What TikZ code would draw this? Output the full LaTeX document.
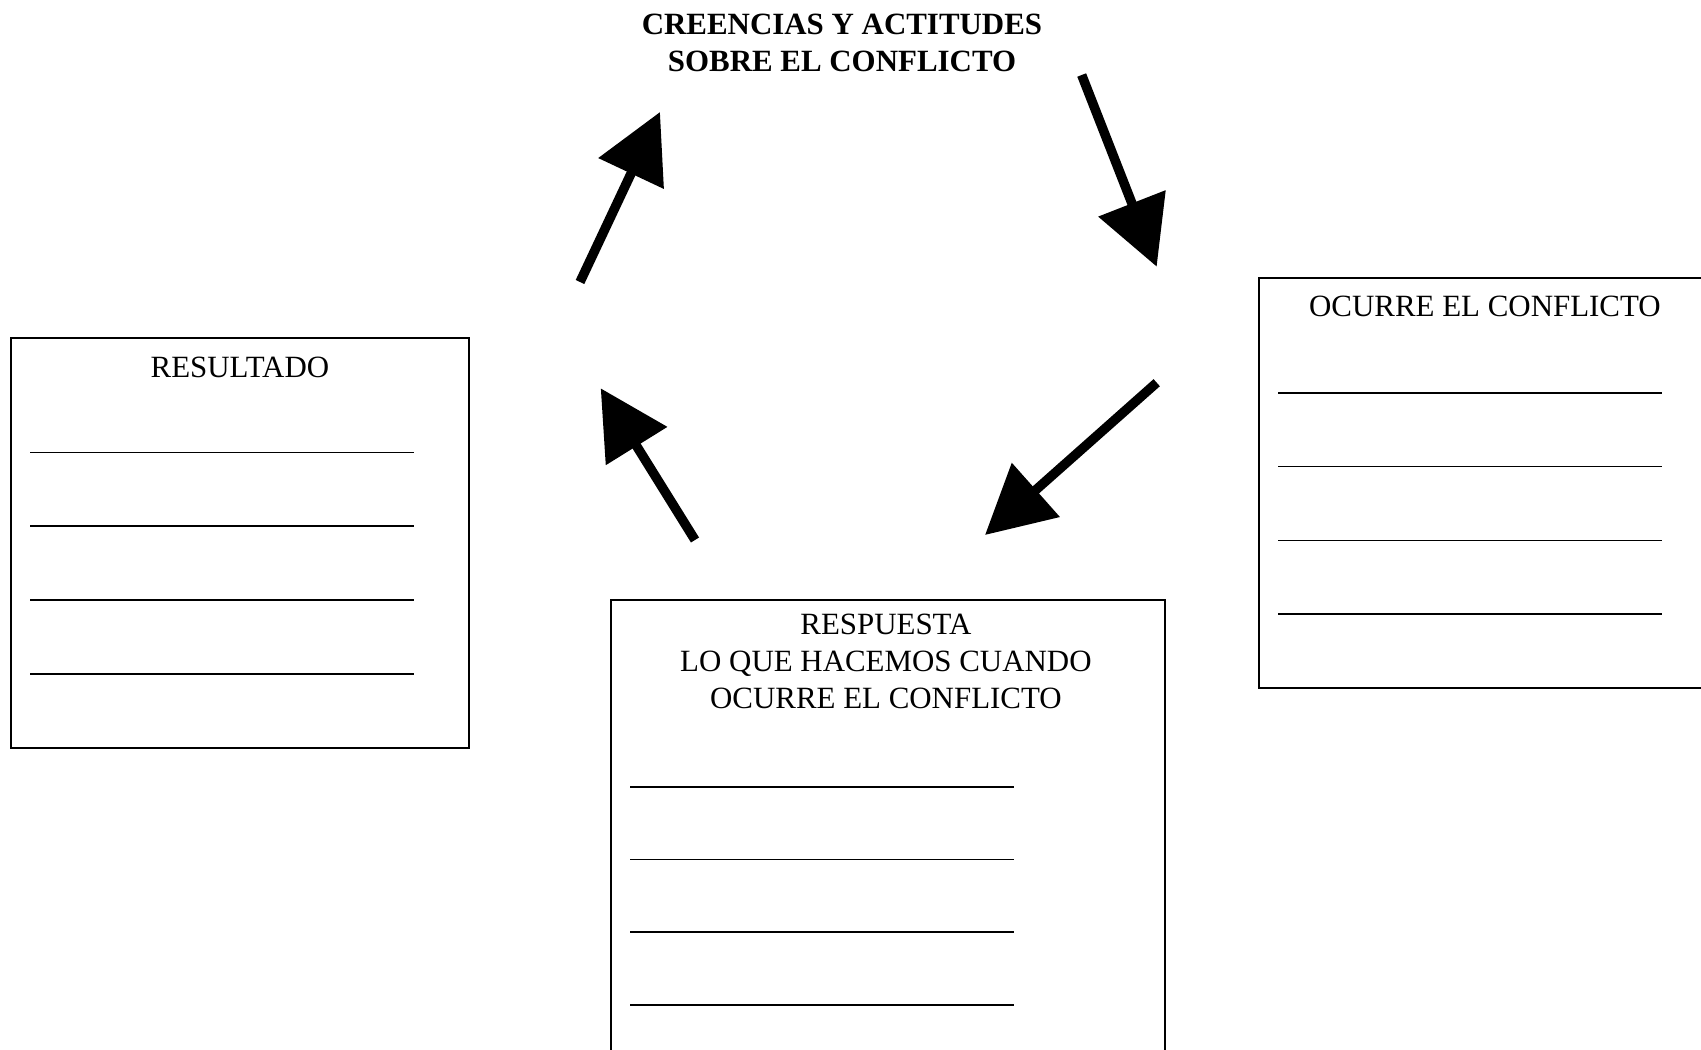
\documentclass[tikz,border=0pt]{standalone}
\usepackage{fontspec}
\setmainfont{Liberation Serif}
\usetikzlibrary{arrows.meta}
\newcommand\boxfont{\fontsize{17.6}{20.9}\selectfont}

\begin{document}
\begin{tikzpicture}[x=0.02cm,y=-0.02cm,
    box/.style={draw,line width=0.04cm,anchor=north west,inner sep=0pt},
    label/.style={anchor=base,align=center,inner sep=0pt,font=\boxfont},
    blank/.style={line width=0.035cm},
    bigarrow/.style={line width=0.19cm,-{Triangle[length=1.36cm,width=1.4cm]}}]
  \useasboundingbox (0,0) rectangle (1701,1050);
  \node[label,font=\boxfont\bfseries] (creencias) at (842,71.7) {CREENCIAS Y ACTITUDES\\SOBRE EL CONFLICTO};
  \node[box,minimum width=9.16cm,minimum height=8.2cm] (resultado) at (10,337) {};
  \node[box,minimum width=9.16cm,minimum height=8.2cm] (ocurre) at (1258,277.5) {};
  \node[box,minimum width=11.08cm,minimum height=10cm] (respuesta) at (610,599) {};
  \node[label] (resultadotxt) at ([shift={(0,41)}]resultado.north) {RESULTADO};
  \node[label] (ocurretxt) at ([shift={(-3,39)}]ocurre.north) {OCURRE EL CONFLICTO};
  \node[label] (respuestatxt) at ([shift={(-2,109.3)}]respuesta.north) {RESPUESTA\\LO QUE HACEMOS CUANDO\\OCURRE EL CONFLICTO};
  \foreach \k in {0,...,3} {
    \draw[blank] ([shift={(20,115.5+73.8*\k)}]resultado.north west) -- ++(384,0);
    \draw[blank] ([shift={(20,115.3+73.8*\k)}]ocurre.north west) -- ++(384,0);
    \draw[blank] ([shift={(20,187.7+72.8*\k)}]respuesta.north west) -- ++(384,0);
  }
  \coordinate (t1) at (580,282);    \coordinate (h1) at (660,112);
  \coordinate (t2) at (1081.7,75);  \coordinate (h2) at (1156.7,266.7);
  \coordinate (t3) at (1156.7,382.7); \coordinate (h3) at (985,535);
  \coordinate (t4) at (695,540);    \coordinate (h4) at (600.7,388.3);
  \foreach \i in {1,...,4}
    \draw[bigarrow] (t\i) -- (h\i);
\end{tikzpicture}
\end{document}
